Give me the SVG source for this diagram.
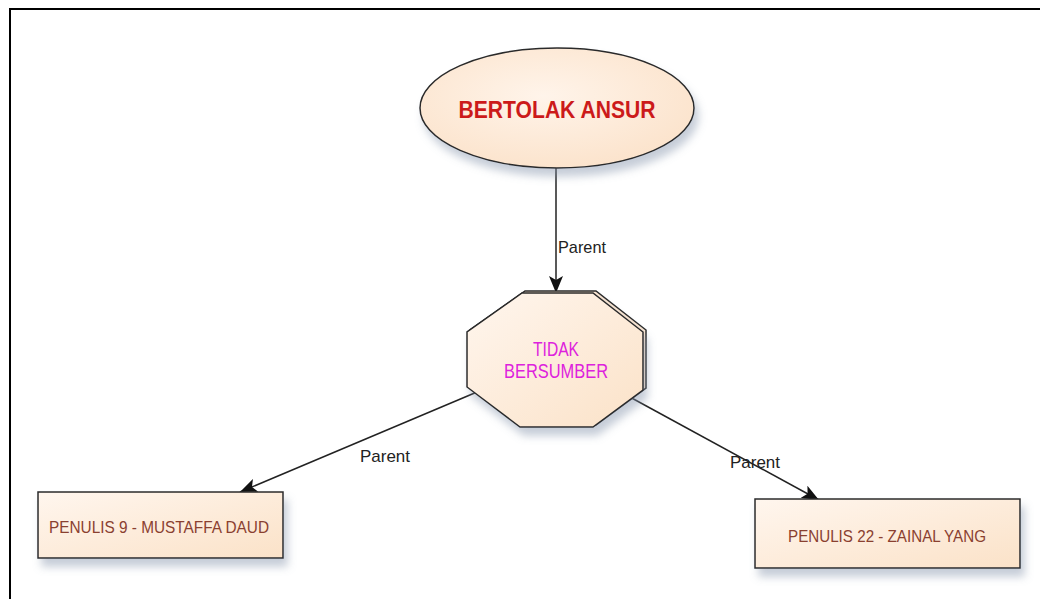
<svg xmlns="http://www.w3.org/2000/svg" width="1040" height="599" viewBox="0 0 1040 599">
<style>
.lbl{font-family:"Liberation Sans",Arial,sans-serif;font-size:17px;fill:#222}
.box{fill:url(#gBox);stroke:#2a2a2a;stroke-width:1.5}
.boxt{font-family:"Liberation Sans",Arial,sans-serif;font-size:17px;fill:#8a4030;text-anchor:middle}
.con{stroke:#222;stroke-width:1.5;fill:none;marker-end:url(#arr)}
</style>
<defs>
<linearGradient id="gBox" x1="0" y1="0" x2="1" y2="1">
<stop offset="0" stop-color="#fff6ee"/>
<stop offset="1" stop-color="#fbe2c8"/>
</linearGradient>
<radialGradient id="gEll" cx="0.45" cy="0.4" r="0.7">
<stop offset="0" stop-color="#fff4ea"/>
<stop offset="1" stop-color="#fbe1c8"/>
</radialGradient>
<filter id="sh" x="-10%" y="-20%" width="125%" height="160%">
<feDropShadow dx="4" dy="8" stdDeviation="4" flood-color="#8090a8" flood-opacity="0.45"/>
</filter>
<marker id="arr" markerWidth="18" markerHeight="14" refX="17" refY="7" orient="auto" markerUnits="userSpaceOnUse">
<path d="M0,0 L17,7 L0,14 L4,7 Z" fill="#111"/>
</marker>
</defs>
<rect width="1040" height="599" fill="#fff"/>
<path d="M10,599 V9 H1040" fill="none" stroke="#000" stroke-width="2"/>

<g id="connectors">
<line class="con" x1="556" y1="168" x2="556" y2="293"/>
<text class="lbl" x="558" y="253" textLength="48" lengthAdjust="spacingAndGlyphs">Parent</text>
<line class="con" x1="477" y1="392" x2="240" y2="492"/>
<text class="lbl" x="360" y="462" textLength="50" lengthAdjust="spacingAndGlyphs">Parent</text>
<line class="con" x1="628" y1="396" x2="819" y2="500"/>
<text class="lbl" x="730" y="468" textLength="50" lengthAdjust="spacingAndGlyphs">Parent</text>
</g>

<g id="node-bertolak">
<ellipse cx="557" cy="108" rx="137" ry="60" fill="url(#gEll)" stroke="#2a2a2a" stroke-width="1.5" filter="url(#sh)"/>
<text x="557" y="118" text-anchor="middle" font-family="'Liberation Sans',Arial,sans-serif" font-size="24" font-weight="bold" fill="#cc1a1a" textLength="197" lengthAdjust="spacingAndGlyphs">BERTOLAK ANSUR</text>
</g>

<g id="node-tidak">
<polygon points="525,291 596,291 646,330 646,388 596,425 523,425 470,385 470,330" fill="#fbe6d2" stroke="#2a2a2a" stroke-width="1.5"/>
<polygon points="522,293 593,293 643,332 643,390 593,427 520,427 467,387 467,332" fill="url(#gBox)" stroke="#2a2a2a" stroke-width="1.5" filter="url(#sh)"/>
<text x="556" y="356" text-anchor="middle" font-family="'Liberation Sans',Arial,sans-serif" font-size="20" fill="#dd22dd" textLength="46" lengthAdjust="spacingAndGlyphs">TIDAK</text>
<text x="556" y="378" text-anchor="middle" font-family="'Liberation Sans',Arial,sans-serif" font-size="20" fill="#dd22dd" textLength="104" lengthAdjust="spacingAndGlyphs">BERSUMBER</text>
</g>

<g id="node-penulis9">
<rect class="box" x="38" y="492" width="245" height="66" filter="url(#sh)"/>
<text class="boxt" x="159" y="533" textLength="220" lengthAdjust="spacingAndGlyphs">PENULIS 9 - MUSTAFFA DAUD</text>
</g>

<g id="node-penulis22">
<rect class="box" x="755" y="499" width="265" height="69" filter="url(#sh)"/>
<text class="boxt" x="887" y="542" textLength="198" lengthAdjust="spacingAndGlyphs">PENULIS 22 - ZAINAL YANG</text>
</g>
</svg>
